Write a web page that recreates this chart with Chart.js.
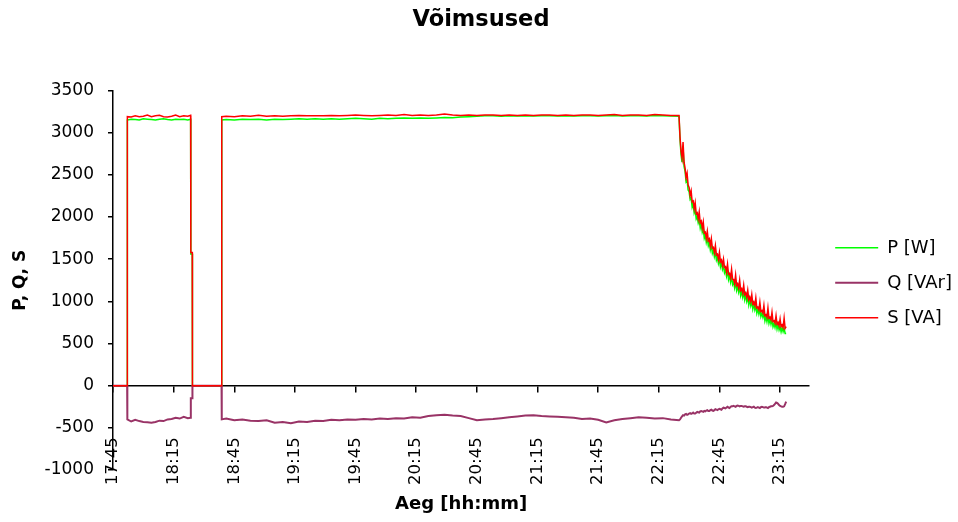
<!DOCTYPE html>
<html>
<head>
<meta charset="utf-8">
<title>Võimsused</title>
<script src="https://cdn.jsdelivr.net/npm/chart.js@4"></script>
<style>
  html, body { margin: 0; padding: 0; background: #fff; }
  #wrap { width: 958px; height: 522px; }
</style>
</head>
<body>
<div id="wrap"><canvas id="powerChart" width="958" height="522"></canvas></div>
<script>
// Aeg minutites alates 17:45
const minutes = [
    0, 7.0,
    7.1, 9, 11, 13, 15, 17, 19, 21, 23, 25, 27, 29, 31, 33, 35, 37, 38.4,
    38.5, 39.2, 39.3, 53.7,
    53.8, 56, 60, 64, 68, 72, 76, 80, 84, 88, 92, 96, 100,
    104, 108, 112, 116, 120, 124, 128, 132, 136, 140, 144, 148, 152, 156, 160, 164, 168, 172, 176, 180, 184, 188, 192, 196, 200,
    204, 208, 212, 216, 220, 224, 228, 232, 236, 240, 244, 248, 252, 256, 260, 264, 268, 272, 276,
    280, 280.5, 281, 281.5, 282, 282.5, 283, 283.5, 284, 284.5, 285, 285.5, 286, 286.5, 287, 287.5, 288, 288.5, 289, 289.5,
    290, 290.5, 291, 291.5, 292, 292.5, 293, 293.5, 294, 294.5, 295, 295.5, 296, 296.5, 297, 297.5, 298, 298.5, 299, 299.5,
    300, 300.5, 301, 301.5, 302, 302.5, 303, 303.5, 304, 304.5, 305, 305.5, 306, 306.5, 307, 307.5, 308, 308.5, 309, 309.5,
    310, 310.5, 311, 311.5, 312, 312.5, 313, 313.5, 314, 314.5, 315, 315.5, 316, 316.5, 317, 317.5, 318, 318.5, 319, 319.5,
    320, 320.5, 321, 321.5, 322, 322.5, 323, 323.5, 324, 324.5, 325, 325.5, 326, 326.5, 327, 327.5, 328, 328.5, 329, 329.5,
    330, 330.5, 331, 331.5, 332, 332.5, 333
];

// P [W]
const pValues = [
    0, 0,
    3150, 3160, 3155, 3150, 3165, 3160, 3155, 3150, 3160, 3165, 3155, 3150, 3160, 3155, 3160, 3150, 3160,
    1560, 1560, 0, 0,
    3150, 3155, 3150, 3160, 3155, 3160, 3150, 3160, 3155, 3160, 3165, 3160, 3165,
    3160, 3165, 3160, 3165, 3170, 3165, 3160, 3170, 3165, 3170, 3175, 3170, 3175, 3170, 3175, 3180, 3178, 3185, 3190, 3195, 3200, 3200, 3195, 3200, 3198,
    3202, 3198, 3202, 3200, 3198, 3202, 3198, 3202, 3200, 3198, 3202, 3205, 3198, 3202, 3200, 3198, 3205, 3202, 3198,
    3195, 2920, 2740, 2650, 2830, 2600, 2540, 2420, 2440, 2320, 2300, 2210, 2230, 2120, 2160, 2050, 2090, 1980, 2010, 1930,
    1970, 1870, 1920, 1820, 1860, 1750, 1790, 1700, 1750, 1660, 1700, 1610, 1660, 1570, 1610, 1530, 1580, 1490, 1530, 1450,
    1500, 1410, 1460, 1380, 1420, 1340, 1380, 1300, 1360, 1260, 1310, 1230, 1300, 1200, 1230, 1160, 1230, 1130, 1180, 1110,
    1170, 1070, 1120, 1050, 1110, 1020, 1080, 1000, 1050, 960, 1030, 950, 1000, 910, 970, 900, 950, 860, 910, 850,
    910, 820, 860, 810, 870, 770, 820, 760, 830, 740, 790, 730, 790, 700, 740, 690, 750, 670, 720, 660,
    700, 640, 690, 640, 680, 620, 620
];

// Q [VAr]
const qValues = [
    0, 0,
    -400, -425, -405, -420, -430, -435, -440, -430, -415, -420, -400, -395, -380, -390, -370, -385, -380,
    -150, -150, 0, 0,
    -400, -390, -410, -400, -415, -420, -410, -440, -430, -445, -425, -430, -415,
    -420, -405, -410, -400, -405, -395, -400, -390, -395, -385, -390, -375, -380, -360, -350, -345, -355, -360, -385, -410, -400, -395, -385, -375, -365,
    -355, -350, -360, -365, -370, -375, -380, -395, -390, -405, -435, -410, -395, -385, -375, -380, -390, -385, -400,
    -410, -400, -380, -365, -350, -355, -340, -335, -345, -340, -330, -325, -335, -330, -320, -330, -330, -320, -310, -315,
    -320, -305, -300, -305, -310, -300, -305, -295, -290, -300, -300, -290, -285, -295, -300, -290, -280, -285, -290, -280,
    -275, -280, -285, -270, -260, -265, -270, -260, -250, -260, -265, -250, -245, -245, -240, -245, -250, -240, -235, -240,
    -245, -240, -240, -245, -250, -245, -245, -250, -255, -250, -250, -255, -260, -255, -250, -260, -265, -260, -255, -260,
    -265, -255, -250, -255, -260, -260, -255, -260, -265, -255, -250, -245, -245, -240, -230, -215, -200, -205, -215, -230,
    -240, -245, -250, -250, -245, -220, -190
];

// S [VA]
const sValues = [
    0, 0,
    3190, 3185, 3200, 3190, 3195, 3210, 3190, 3200, 3205, 3190, 3185, 3195, 3210, 3190, 3200, 3195, 3205,
    1580, 1580, 0, 0,
    3190, 3195, 3190, 3200, 3195, 3205, 3195, 3200, 3195, 3200, 3205, 3200, 3200,
    3200, 3205, 3200, 3205, 3210, 3205, 3200, 3205, 3210, 3205, 3215, 3205, 3210, 3205, 3210, 3220, 3210, 3205, 3210, 3205, 3210, 3210, 3205, 3210, 3205,
    3210, 3205, 3210, 3210, 3205, 3210, 3205, 3210, 3210, 3205, 3210, 3215, 3205, 3210, 3210, 3205, 3215, 3210, 3205,
    3205, 2950, 2780, 2700, 2890, 2650, 2580, 2470, 2520, 2380, 2350, 2260, 2310, 2180, 2190, 2100, 2170, 2040, 2050, 1980,
    2060, 1930, 1950, 1870, 1940, 1810, 1820, 1750, 1830, 1720, 1740, 1660, 1740, 1630, 1640, 1580, 1660, 1550, 1560, 1500,
    1580, 1470, 1490, 1430, 1500, 1400, 1410, 1350, 1440, 1320, 1330, 1280, 1380, 1260, 1260, 1210, 1310, 1190, 1210, 1160,
    1250, 1130, 1150, 1100, 1190, 1080, 1100, 1050, 1130, 1020, 1050, 1000, 1080, 970, 990, 950, 1040, 920, 930, 900,
    990, 880, 890, 860, 950, 830, 840, 810, 920, 800, 810, 780, 870, 760, 770, 740, 830, 730, 750, 710,
    790, 700, 720, 690, 800, 680, 700
];

// X telje jaotised
const tickMinutes = [0, 30, 60, 90, 120, 150, 180, 210, 240, 270, 300, 330];
const tickLabels = ['17:45', '18:15', '18:45', '19:15', '19:45', '20:15', '20:45', '21:15', '21:45', '22:15', '22:45', '23:15'];

Chart.defaults.font.family = 'DejaVu Sans';
Chart.defaults.color = '#000';

const toPoints = vals => minutes.map((m, i) => ({ x: m, y: vals[i] }));
const useTicks = scale => { scale.ticks = tickMinutes.map(v => ({ value: v })); };

const ctx = document.getElementById('powerChart').getContext('2d');

new Chart(ctx, {
    type: 'line',
    data: {
        datasets: [
            { label: 'P [W]', data: toPoints(pValues), borderColor: '#00ff00', backgroundColor: '#00ff00', borderWidth: 1.5, order: 2 },
            { label: 'Q [VAr]', data: toPoints(qValues), borderColor: '#993366', backgroundColor: '#993366', borderWidth: 2, order: 1 },
            { label: 'S [VA]', data: toPoints(sValues), borderColor: '#ff0000', backgroundColor: '#ff0000', borderWidth: 1.5, order: 0 }
        ]
    },
    options: {
        responsive: false,
        animation: false,
        elements: { point: { radius: 0 }, line: { tension: 0 } },
        layout: { padding: { top: 0, right: -4, bottom: 2.4, left: 0 } },
        plugins: {
            title: {
                display: true, text: 'Võimsused', color: '#000',
                font: { size: 22.5, weight: 'bold' },
                padding: { top: 6.5, bottom: 57 }
            },
            legend: {
                position: 'right',
                fullSize: false,
                title: { display: true, text: ' ', font: { size: 1 }, padding: 2 },
                labels: {
                    usePointStyle: true, pointStyle: 'line', pointStyleWidth: 43,
                    padding: 17, color: '#000', font: { size: 18 },
                    sort: (a, b) => a.datasetIndex - b.datasetIndex
                }
            },
            tooltip: { enabled: false }
        },
        scales: {
            x: {
                type: 'linear', position: 'bottom', min: 0, max: 344.4,
                afterBuildTicks: useTicks,
                ticks: { display: false },
                grid: { display: false, drawTicks: false },
                border: { display: false },
                title: { display: true, text: 'Aeg [hh:mm]', font: { size: 18, weight: 'bold' }, padding: { top: 24, bottom: 4 } }
            },
            // ajasildid
            xl: {
                type: 'linear', axis: 'x', position: { y: -530 }, min: 0, max: 344.4,
                afterBuildTicks: useTicks,
                ticks: { minRotation: 90, maxRotation: 90, autoSkip: false, padding: 7, font: { size: 16.5 }, callback: (v, i) => tickLabels[i] },
                grid: { drawOnChartArea: false, drawTicks: false },
                border: { display: false }
            },
            // nulljoon
            x0: {
                type: 'linear', axis: 'x', position: { y: 0 }, min: 0, max: 344.4,
                afterBuildTicks: useTicks,
                ticks: { display: false },
                grid: { drawOnChartArea: false, tickLength: 6, color: '#000', lineWidth: 1.5 },
                border: { color: '#000', width: 1.5 }
            },
            y: {
                min: -1000, max: 3500,
                ticks: { stepSize: 500, padding: 14, font: { size: 17 }, callback: v => String(v) },
                grid: { drawOnChartArea: false, tickLength: 5, color: '#000', lineWidth: 1.5 },
                border: { color: '#000', width: 1.5 },
                title: { display: true, text: 'P, Q, S', font: { size: 17, weight: 'bold' }, padding: { top: 10.2, bottom: 0 } }
            },
            gap: {
                type: 'linear', position: 'right', display: true,
                ticks: { display: false },
                grid: { display: false, drawTicks: false },
                border: { display: false },
                afterFit: s => { s.width = 9; }
            }
        }
    }
});
</script>
</body>
</html>
